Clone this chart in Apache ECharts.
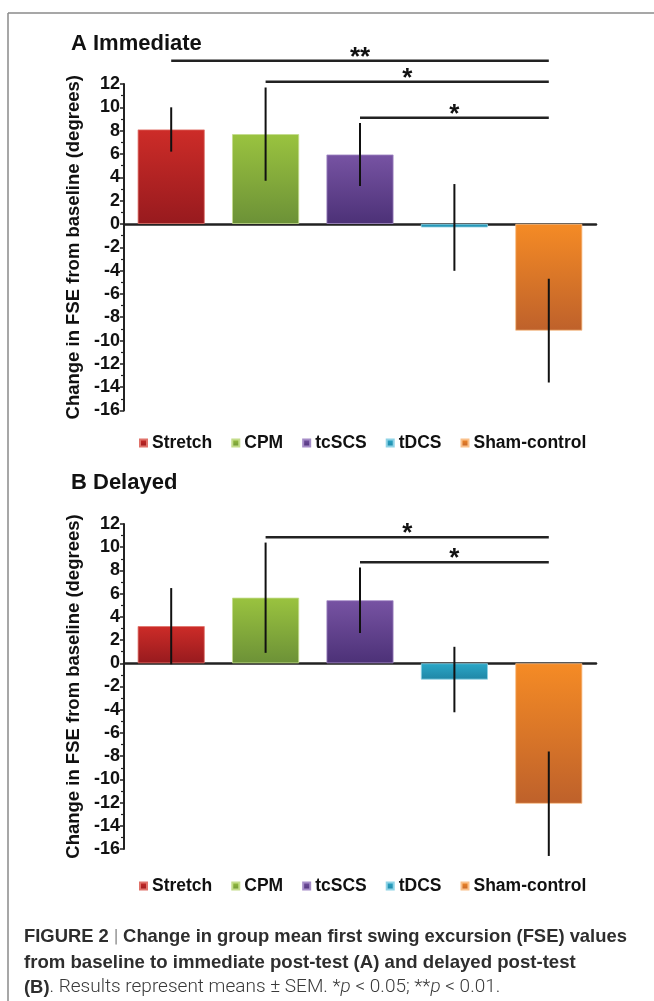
<!DOCTYPE html>
<html>
<head>
<meta charset="utf-8">
<script src="https://cdn.jsdelivr.net/npm/echarts@6/dist/echarts.min.js"></script>
<style>
html,body{margin:0;padding:0;background:#fff;}
#c{width:654px;height:1001px;}
</style>
</head>
<body>
<div id="c"></div>
<script>
// ---------------- data ----------------
const categories = ['Stretch', 'CPM', 'tcSCS', 'tDCS', 'Sham-control'];
const yTicks = [12, 10, 8, 6, 4, 2, 0, -2, -4, -6, -8, -10, -12, -14, -16];

// Panel A: Immediate
const meansA = [8.1, 7.7, 5.95, -0.3, -9.15];
const semA   = [1.9, 4.0, 2.7, 3.72, 4.45];
const sigFromA  = [0, 1, 2];
const sigToA    = [4, 4, 4];
const sigLevelA = [14, 12.2, 9.1];
const sigLabelA = ['**', '*', '*'];

// Panel B: Delayed
const meansB = [3.2, 5.65, 5.43, -1.4, -12.1];
const semB   = [3.28, 4.75, 2.82, 2.82, 4.5];
const sigFromB  = [1, 2];
const sigToB    = [4, 4];
const sigLevelB = [10.86, 8.7];
const sigLabelB = ['*', '*'];

// ---------------- styles ----------------
const barColors = [
  ['#cd2c28', '#971a1e', '#e0726a'],
  ['#9ac33f', '#6c9137', '#c3dc8a'],
  ['#7753a3', '#4c3177', '#a58cc7'],
  ['#2ba8c8', '#1f86a6', '#8fd3e6'],
  ['#f58b25', '#be612b', '#f9c08a']
];
const FONT = '"Liberation Sans", Arial, sans-serif';

function grad(c) {
  return new echarts.graphic.LinearGradient(0, 0, 0, 1, [
    { offset: 0, color: c[0] },
    { offset: 1, color: c[1] }
  ]);
}

function barSeries(means, axisIdx) {
  return categories.map((name, i) => ({
    name: name,
    type: 'bar',
    xAxisIndex: axisIdx,
    yAxisIndex: axisIdx,
    stack: 'p' + axisIdx,
    barCategoryGap: '29%',
    itemStyle: { color: grad(barColors[i]), borderColor: barColors[i][2], borderWidth: 0.8 },
    emphasis: { disabled: true },
    data: means.map((v, j) => (j === i ? v : '-')),
    z: 2
  }));
}

function errorSeries(means, sem, axisIdx) {
  return {
    type: 'custom',
    xAxisIndex: axisIdx,
    yAxisIndex: axisIdx,
    clip: false,
    z: 5,
    silent: true,
    data: means.map((m, i) => [i, m - sem[i], m + sem[i]]),
    renderItem: function (params, api) {
      const x = api.value(0);
      const p1 = api.coord([x, api.value(2)]);
      const p2 = api.coord([x, api.value(1)]);
      return {
        type: 'line',
        shape: { x1: p1[0], y1: p1[1], x2: p2[0], y2: p2[1] },
        style: { stroke: '#111', lineWidth: 2 }
      };
    }
  };
}

function sigSeries(from, to, level, labels, axisIdx) {
  return {
    type: 'custom',
    xAxisIndex: axisIdx,
    yAxisIndex: axisIdx,
    clip: false,
    z: 6,
    silent: true,
    data: from.map((f, i) => [f, to[i], level[i], i]),
    renderItem: function (params, api) {
      const p1 = api.coord([api.value(0), api.value(2)]);
      const p2 = api.coord([api.value(1), api.value(2)]);
      const lbl = labels[api.value(3)];
      return {
        type: 'group',
        children: [
          { type: 'line', shape: { x1: p1[0], y1: p1[1], x2: p2[0], y2: p2[1] },
            style: { stroke: '#222', lineWidth: 2.5 } },
          { type: 'text', x: (p1[0] + p2[0]) / 2, y: p1[1] - 3,
            style: { text: lbl, fill: '#111', font: 'bold 26px ' + FONT, align: 'center', verticalAlign: 'middle' } }
        ]
      };
    }
  };
}

function xAxisCfg(gi) {
  return {
    type: 'category', gridIndex: gi, data: categories,
    axisLine: { onZero: true, lineStyle: { color: '#222', width: 2.5 } },
    axisTick: { show: false }, axisLabel: { show: false }, splitLine: { show: false }
  };
}
function yAxisCfg(gi) {
  return {
    type: 'value', gridIndex: gi, min: -16, max: 12, interval: 2,
    name: 'Change in FSE from baseline (degrees)',
    nameLocation: 'middle', nameRotate: 90, nameGap: 38,
    nameTextStyle: { fontFamily: FONT, fontWeight: 'bold', fontSize: 18.5, color: '#111' },
    axisLine: { show: true, lineStyle: { color: '#222', width: 2 } },
    axisTick: { show: true, length: 4, lineStyle: { color: '#222', width: 1.5 } },
    minorTick: { show: true, splitNumber: 2, length: 3, lineStyle: { color: '#222', width: 1.2 } },
    axisLabel: { fontFamily: FONT, fontWeight: 'bold', fontSize: 18, color: '#111', margin: 4,
      formatter: v => (yTicks.indexOf(v) >= 0 ? String(v) : '') },
    splitLine: { show: false }
  };
}

function legendCfg(top) {
  return {
    top: top, left: 134, itemWidth: 7, itemHeight: 7, itemGap: 19, icon: 'rect',
    selectedMode: false,
    textStyle: { fontFamily: FONT, fontWeight: 'bold', fontSize: 17.5, color: '#111' },
    data: categories
  };
}

const chart = echarts.init(document.getElementById('c'), null, { renderer: 'canvas' });
chart.setOption({
  animation: false,
  backgroundColor: '#fff',
  grid: [
    { left: 124, width: 472, top: 84, height: 326.5 },
    { left: 124, width: 472, top: 524, height: 325 }
  ],
  xAxis: [xAxisCfg(0), xAxisCfg(1)],
  yAxis: [yAxisCfg(0), yAxisCfg(1)],
  legend: [legendCfg(429), legendCfg(872)],
  series: [].concat(
    barSeries(meansA, 0),
    barSeries(meansB, 1),
    [errorSeries(meansA, semA, 0), errorSeries(meansB, semB, 1),
     sigSeries(sigFromA, sigToA, sigLevelA, sigLabelA, 0),
     sigSeries(sigFromB, sigToB, sigLevelB, sigLabelB, 1)]
  ),
  graphic: [
    { type: 'line', shape: { x1: 8, y1: 13, x2: 654, y2: 13 }, style: { stroke: '#8a8a8a', lineWidth: 1.5 } },
    { type: 'line', shape: { x1: 8, y1: 13, x2: 8, y2: 1001 }, style: { stroke: '#8a8a8a', lineWidth: 1.5 } },
    { type: 'text', left: 71, top: 33, style: { text: 'A Immediate', font: 'bold 22px ' + FONT, fill: '#111' } },
    { type: 'text', left: 71, top: 472, style: { text: 'B Delayed', font: 'bold 22px ' + FONT, fill: '#111' } },
    { type: 'text', left: 24, top: 928, style: {
        text: '{b|FIGURE 2 }{bar||}{b| Change in group mean first swing excursion (FSE) values}',
        rich: {
          b: { fontFamily: FONT, fontWeight: 'bold', fontSize: 18.4, fill: '#2e2e2e' },
          bar: { fontFamily: 'Roboto, ' + FONT, fontWeight: 300, fontSize: 18.4, fill: '#555' }
        } } },
    { type: 'text', left: 24, top: 953, style: {
        text: 'from baseline to immediate post-test (A) and delayed post-test',
        font: 'bold 18.6px ' + FONT, fill: '#2e2e2e' } },
    { type: 'text', left: 24, top: 978, style: {
        text: '{b|(B)}{l|. Results represent means ± SEM. *}{i|p}{l| < 0.05; **}{i|p}{l| < 0.01.}',
        rich: {
          b: { fontFamily: FONT, fontWeight: 'bold', fontSize: 18.4, fill: '#2e2e2e' },
          l: { fontFamily: 'Roboto, ' + FONT, fontWeight: 300, fontSize: 19, fill: '#3a3a3a' },
          i: { fontFamily: 'Roboto, ' + FONT, fontWeight: 300, fontStyle: 'italic', fontSize: 19, fill: '#3a3a3a' }
        } } }
  ]
});
</script>
</body>
</html>
